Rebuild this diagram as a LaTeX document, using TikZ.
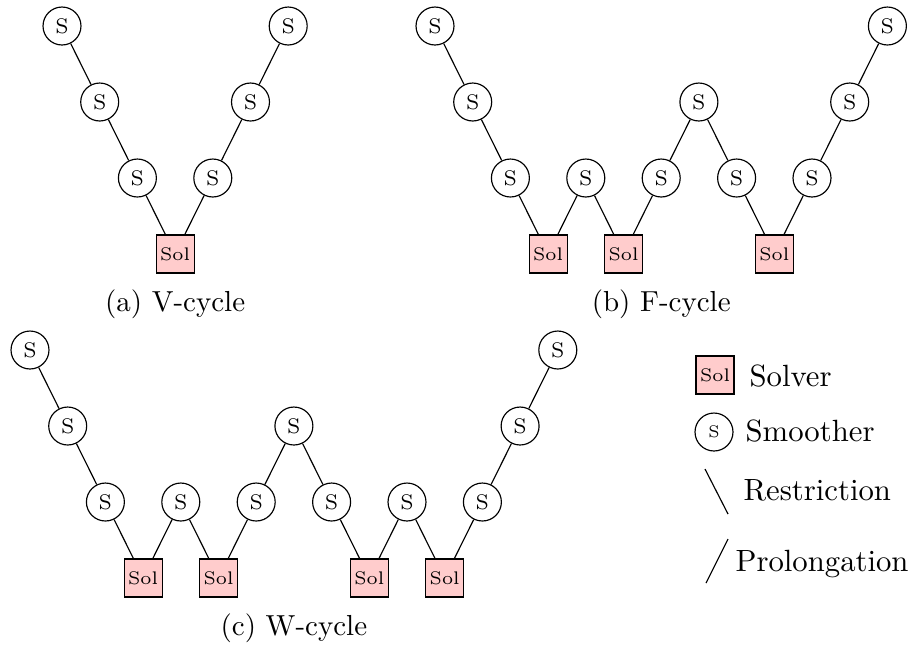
\documentclass[tikz,border=0pt]{standalone}
\usepackage{tikz}
\usetikzlibrary{positioning}
\tikzset{
  smo/.style={draw, circle, minimum size=13.1pt, inner sep=0pt,
    font=\fontsize{7.3}{8}\selectfont},
  sol/.style={draw, fill=red!20, minimum size=13.1pt, inner sep=0pt,
    font=\fontsize{6.3}{7}\selectfont},
  subcap/.style={anchor=base, inner sep=0pt},
  legtext/.style={anchor=base west, inner sep=0pt,
    font=\fontsize{10.6}{12}\selectfont}
}
\newcommand*{\smo}[2]{\node[smo] (#1) at (#2) {S}}
\newcommand*{\sol}[2]{\node[sol] (#1) at (#2) {Sol}}

\begin{document}
\begin{tikzpicture}[x=0.345pt,y=-0.345pt]
\useasboundingbox (0,0) rectangle (911,648);

% V-cycle
\smo{v1}{62,26};
\smo{v2}{99.7,102};
\smo{v3}{137.4,178};
\sol{v4}{175.1,254};
\smo{v5}{212.8,178};
\smo{v6}{250.5,102};
\smo{v7}{288.2,26};
\draw (v1) -- (v2) -- (v3) -- (v4) -- (v5) -- (v6) -- (v7);
\node[subcap] (capa) at (175.1,311) {(a) V-cycle};

% F-cycle
\smo{f1}{435,26};
\smo{f2}{472.7,102};
\smo{f3}{510.4,178};
\sol{f4}{548.1,254};
\smo{f5}{585.8,178};
\sol{f6}{623.5,254};
\smo{f7}{661.2,178};
\smo{f8}{698.9,102};
\smo{f9}{736.6,178};
\sol{f10}{774.3,254};
\smo{f11}{812,178};
\smo{f12}{849.7,102};
\smo{f13}{887.4,26};
\draw (f1) -- (f2) -- (f3) -- (f4) -- (f5) -- (f6) -- (f7) -- (f8)
  -- (f9) -- (f10) -- (f11) -- (f12) -- (f13);
\node[subcap] (capb) at (661.2,311) {(b) F-cycle};

% W-cycle
\smo{w1}{30,350};
\smo{w2}{67.7,426};
\smo{w3}{105.4,502};
\sol{w4}{143.1,578};
\smo{w5}{180.8,502};
\sol{w6}{218.5,578};
\smo{w7}{256.2,502};
\smo{w8}{293.9,426};
\smo{w9}{331.6,502};
\sol{w10}{369.3,578};
\smo{w11}{407,502};
\sol{w12}{444.7,578};
\smo{w13}{482.4,502};
\smo{w14}{520.1,426};
\smo{w15}{557.8,350};
\draw (w1) -- (w2) -- (w3) -- (w4) -- (w5) -- (w6) -- (w7) -- (w8)
  -- (w9) -- (w10) -- (w11) -- (w12) -- (w13) -- (w14) -- (w15);
\node[subcap] (capc) at (293.9,635) {(c) W-cycle};

% legend
\sol{lsol}{715,375};
\node[smo, font=\fontsize{5.8}{6}\selectfont] (lsmo) at (714,432) {S};
\node[legtext] (tsol) at (749,386) {Solver};
\node[legtext] (tsmo) at (745,441) {Smoother};
\coordinate (r1) at (705,469);
\coordinate (r2) at (728,514);
\draw (r1) -- (r2);
\node[legtext] (tres) at (743,500) {Restriction};
\coordinate (p1) at (706,583);
\coordinate (p2) at (728,539);
\draw (p1) -- (p2);
\node[legtext] (tpro) at (735,571) {Prolongation};
\end{tikzpicture}
\end{document}
